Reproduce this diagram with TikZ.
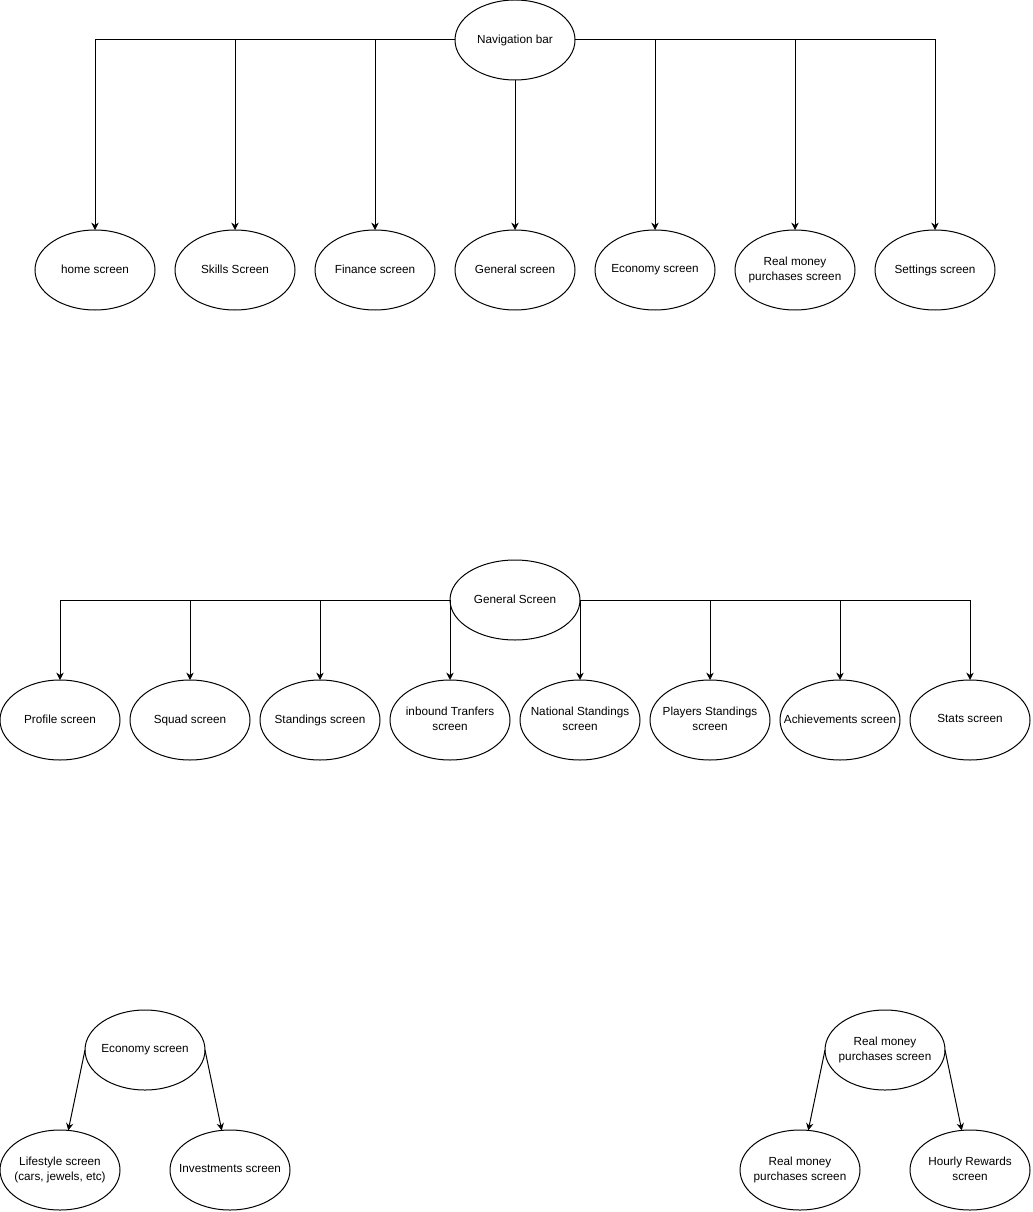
\documentclass[tikz,border=0pt]{standalone}
\usepackage{fontspec}
\setmainfont{Liberation Sans}
\usetikzlibrary{positioning,shapes.geometric,arrows.meta}

\begin{document}
\begin{tikzpicture}
[every node/.style={draw=black,line width=0.75pt,ellipse,minimum width=90pt,minimum height=60pt,inner xsep=-15pt,inner ysep=0pt,outer sep=0pt,align=center,font=\fontsize{8.8}{11.4}\selectfont,
   execute at begin node=\vphantom{Ay},execute at end node=\vphantom{Ay}},
 wide/.style={minimum width=97.5pt},
 link/.style={-{Stealth[length=5.5pt,width=5.5pt]}},
 line width=0.75pt]
\useasboundingbox (0pt,0pt) rectangle (774pt,-909pt);
\node (nav)   at (386.25pt,-30pt)                                  {Navigation bar};
\node (home)  [on grid,below  left=172.5pt and 315pt of nav]       {home screen};
\node (skill) [on grid,below  left=172.5pt and 210pt of nav]       {Skills Screen};
\node (fin)   [on grid,below  left=172.5pt and 105pt of nav]       {Finance screen};
\node (gen)   [on grid,below=172.5pt of nav]                       {General screen};
\node (eco)   [on grid,below right=172.5pt and 105pt of nav]       {Economy screen};
\node (rmp)   [on grid,below right=172.5pt and 210pt of nav]       {Real money\\purchases screen};
\node (sett)  [on grid,below right=172.5pt and 315pt of nav]       {Settings screen};
\draw[link] (nav.west) -| (home);
\draw[link] (nav.west) -| (skill);
\draw[link] (nav.west) -| (fin);
\draw[link] (nav)      -- (gen);
\draw[link] (nav.east) -| (eco);
\draw[link] (nav.east) -| (rmp);
\draw[link] (nav.east) -| (sett);
\node[wide] (gs)  at (386.25pt,-450pt)                             {General Screen};
\node (prof)  [on grid,below  left=90pt and 341.25pt of gs]        {Profile screen};
\node (squad) [on grid,below  left=90pt and 243.75pt of gs]        {Squad screen};
\node (stand) [on grid,below  left=90pt and 146.25pt of gs]        {Standings screen};
\node (inb)   [on grid,below  left=90pt and 48.75pt of gs]         {inbound Tranfers\\screen};
\node (nat)   [on grid,below right=90pt and 48.75pt of gs]         {National Standings\\screen};
\node (play)  [on grid,below right=90pt and 146.25pt of gs]        {Players Standings\\screen};
\node (ach)   [on grid,below right=90pt and 243.75pt of gs]        {Achievements screen};
\node (stats) [on grid,below right=90pt and 341.25pt of gs]        {Stats screen};
\draw[link] (gs.west) -| (prof);
\draw[link] (gs.west) -| (squad);
\draw[link] (gs.west) -| (stand);
\draw[link] (gs.west) -- (inb);
\draw[link] (gs.east) -- (nat);
\draw[link] (gs.east) -| (play);
\draw[link] (gs.east) -| (ach);
\draw[link] (gs.east) -| (stats);
\node (ecoB)  at (108.75pt,-787.5pt)                               {Economy screen};
\node (life)  [on grid,below  left=90pt and 63.75pt of ecoB]       {Lifestyle screen\\(cars, jewels, etc)};
\node (inv)   [on grid,below right=90pt and 63.75pt of ecoB]       {Investments screen};
\draw[link] (ecoB.west) -- (life);
\draw[link] (ecoB.east) -- (inv);
\node (rmpB)  at (663.75pt,-787.5pt)                               {Real money\\purchases screen};
\node (rmpC)  [on grid,below  left=90pt and 63.75pt of rmpB]       {Real money\\purchases screen};
\node (hour)  [on grid,below right=90pt and 63.75pt of rmpB]       {Hourly Rewards\\screen};
\draw[link] (rmpB.west) -- (rmpC);
\draw[link] (rmpB.east) -- (hour);
\end{tikzpicture}
\end{document}
